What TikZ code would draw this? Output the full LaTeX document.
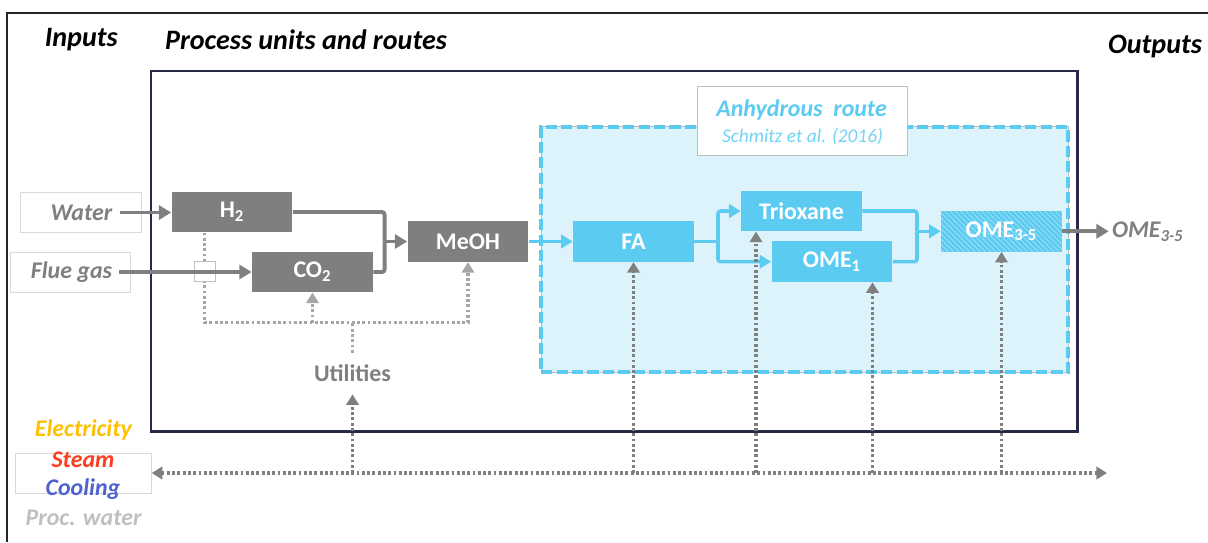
\documentclass[tikz,border=0pt]{standalone}
\usepackage{fontspec}
\setmainfont{Carlito}
\usetikzlibrary{arrows.meta,patterns}
\definecolor{unitgray}{HTML}{7F7F7F}
\definecolor{unitblue}{HTML}{5BCBF2}
\definecolor{routefill}{HTML}{DDF3FB}
\definecolor{procnavy}{HTML}{262A44}
\definecolor{utilgray}{HTML}{A6A6A6}
\definecolor{feedline}{HTML}{D9D9D9}
\definecolor{elecorange}{HTML}{FFC000}
\definecolor{steamred}{HTML}{FF3D1F}
\definecolor{coolblue}{HTML}{4F62D0}
\definecolor{pwgray}{HTML}{BFBFBF}
\tikzset{
  frame/.style={draw=black!85, line width=1.3pt},
  procbox/.style={draw=procnavy, line width=1.3pt, minimum width=18.53cm, minimum height=7.21cm, inner sep=0pt},
  routebox/.style={fill=routefill, draw=utilgray!80, line width=0.4pt, minimum width=10.54cm, minimum height=4.91cm, inner sep=0pt,
    postaction={draw=unitblue, line width=2.2pt, dash pattern=on 6.4pt off 2.4pt}},
  reflbl/.style={draw=pwgray, fill=white, line width=0.4pt, minimum width=4.21cm, minimum height=1.38cm, inner sep=0pt},
  rtitle/.style={font=\fontsize{13.6}{16}\selectfont\bfseries\itshape, text=unitblue, inner sep=0pt},
  rref/.style={font=\fontsize{11}{13}\selectfont\itshape, text=unitblue!85, inner sep=0pt},
  unit/.style={rectangle, fill=unitgray, text=white, font=\fontsize{13.6}{16}\selectfont\bfseries, minimum width=2.42cm, minimum height=0.81cm, inner sep=0pt},
  bunit/.style={unit, fill=unitblue},
  hatched/.style={postaction={pattern=north west lines, pattern color=white!45!unitblue}},
  feedbox/.style={draw=feedline, line width=0.4pt, fill=white, minimum height=0.80cm, inner sep=0pt},
  feed/.style={font=\fontsize{13.6}{16}\selectfont\bfseries\itshape, text=unitgray, inner sep=0.14cm},
  hdr/.style={font=\fontsize{16}{19}\selectfont\bfseries\itshape, inner sep=0pt},
  uname/.style={font=\fontsize{13.6}{16}\selectfont\bfseries\itshape, inner sep=0pt},
  util/.style={font=\fontsize{13.6}{16}\selectfont\bfseries, text=unitgray, minimum height=0.82cm, inner sep=0pt},
  xbox/.style={draw=pwgray, fill=white, line width=0.4pt, minimum width=0.43cm, minimum height=0.40cm, inner sep=0pt},
  gline/.style={draw=unitgray, line width=2.2pt, rounded corners=1.5pt},
  garr/.style={gline, -{Triangle[length=7pt,width=8pt]}},
  bline/.style={draw=unitblue, line width=2pt, rounded corners=1.5pt},
  barr/.style={bline, -{Triangle[length=6.5pt,width=7.5pt]}},
  uline/.style={draw=utilgray, line width=2pt, dash pattern=on 1.6pt off 1.4pt},
  uarr/.style={uline, -{Triangle[length=6pt,width=7pt]}},
  lline/.style={uline, draw=unitgray},
  larr/.style={lline, -{Triangle[length=6pt,width=7pt]}},
  lbus/.style={lline, {Triangle[length=6pt,width=7pt]}-{Triangle[length=6pt,width=7pt]}},
}
\begin{document}
\begin{tikzpicture}[x=0.02cm,y=-0.02cm]
  \useasboundingbox (0,0) rectangle (1208,542);
  \draw[frame] (7,542) -- (7,12.7) -- (1208,12.7);
  \node[hdr] (hin) at (81.3,40) {Inputs};
  \node[hdr] (hproc) at (306,40) {Process units and routes};
  \node[hdr] (hout) at (1155,46.7) {Outputs};
  \node[procbox] (proc) at (614.4,251.4) {};
  \node[routebox] (anhyd) at (804.5,249.5) {};
  \node[reflbl] (lblbox) at (802.3,120.5) {};
  \node[rtitle] (rtitle) at (801.6,110) {Anhydrous\ \ route};
  \node[rref] (rref) at (802.5,136.7) {Schmitz et al. (2016)};
  \node[unit] (h2) at (232,212) {H\textsubscript{2}};
  \node[unit] (co2) at (312.5,272) {CO\textsubscript{2}};
  \node[unit] (meoh) at (468,241.5) {MeOH};
  \node[bunit] (fa) at (633.5,241.5) {FA};
  \node[bunit] (triox) at (801.5,211) {Trioxane};
  \node[bunit] (ome1) at (832,261.7) {OME\textsubscript{1}};
  \node[bunit, hatched] (ome35) at (1001.5,231.3) {OME\textsubscript{3-5}};
  \node[feedbox, minimum width=2.42cm] (waterbox) at (81.2,212.5) {};
  \node[feed] (water) at (81.5,212.5) {Water};
  \node[feedbox, minimum width=2.40cm] (fluebox) at (70.6,272) {};
  \node[feed] (flue) at (71.5,272) {Flue gas};
  \node[util] (util) at (352.5,373.5) {Utilities};
  \coordinate (ubus) at (352.5,322.7);
  \draw[uarr] ([xshift=-0.546cm]h2.south) |- (ubus) -| (meoh.south);
  \draw[uarr] (co2.south |- ubus) -- (co2.south);
  \draw[uline] (util.north) -- (ubus);
  \node[xbox] (xing) at (204.7,271) {};
  \draw[garr] (water.east) -- (water.east -| h2.west);
  \draw[garr] (flue.east) -- (flue.east -| co2.west);
  \coordinate (syn) at (384.6,241.5);
  \draw[gline] (h2.east) -| (syn);
  \draw[gline] (co2.east) -| (syn);
  \draw[garr] (syn) -- (meoh.west);
  \draw[barr] (meoh.east) -- (fa.west);
  \coordinate (fasplit) at (718,241.5);
  \draw[bline] (fa.east) -- (fasplit);
  \draw[barr] (fasplit) |- (triox.west);
  \draw[barr] (fasplit) |- (ome1.west);
  \coordinate (omemix) at (917,231.3);
  \draw[bline] (triox.east) -| (omemix);
  \draw[bline] (ome1.east) -| (omemix);
  \draw[barr] (omemix) -- (ome35.west);
  \node[feed, anchor=west, inner sep=0.06cm] (omeout) at (1108.7,232) {OME\textsubscript{3-5}};
  \draw[garr] (ome35.east) -- (ome35.east -| omeout.west);
  \node[feedbox, minimum width=2.72cm] (utilbox) at (83.4,473) {};
  \node[uname, text=elecorange] (elec) at (83.4,430) {Electricity};
  \node[uname, text=steamred] (steam) at (83,460) {Steam};
  \node[uname, text=coolblue] (cool) at (83,489) {Cooling};
  \node[uname, text=pwgray] (pwater) at (83.6,518) {Proc. water};
  \coordinate (lbusend) at (1107,473);
  \draw[lbus] (utilbox.east) -- (lbusend);
  \draw[larr] (util.south |- lbusend) -- (util.south);
  \draw[larr] (fa.south |- lbusend) -- (fa.south);
  \coordinate (trxin) at ([xshift=-0.91cm]triox.south);
  \draw[larr] (trxin |- lbusend) -- (trxin);
  \coordinate (om1in) at ([xshift=0.81cm]ome1.south);
  \draw[larr] (om1in |- lbusend) -- (om1in);
  \draw[larr] (ome35.south |- lbusend) -- (ome35.south);
\end{tikzpicture}
\end{document}
